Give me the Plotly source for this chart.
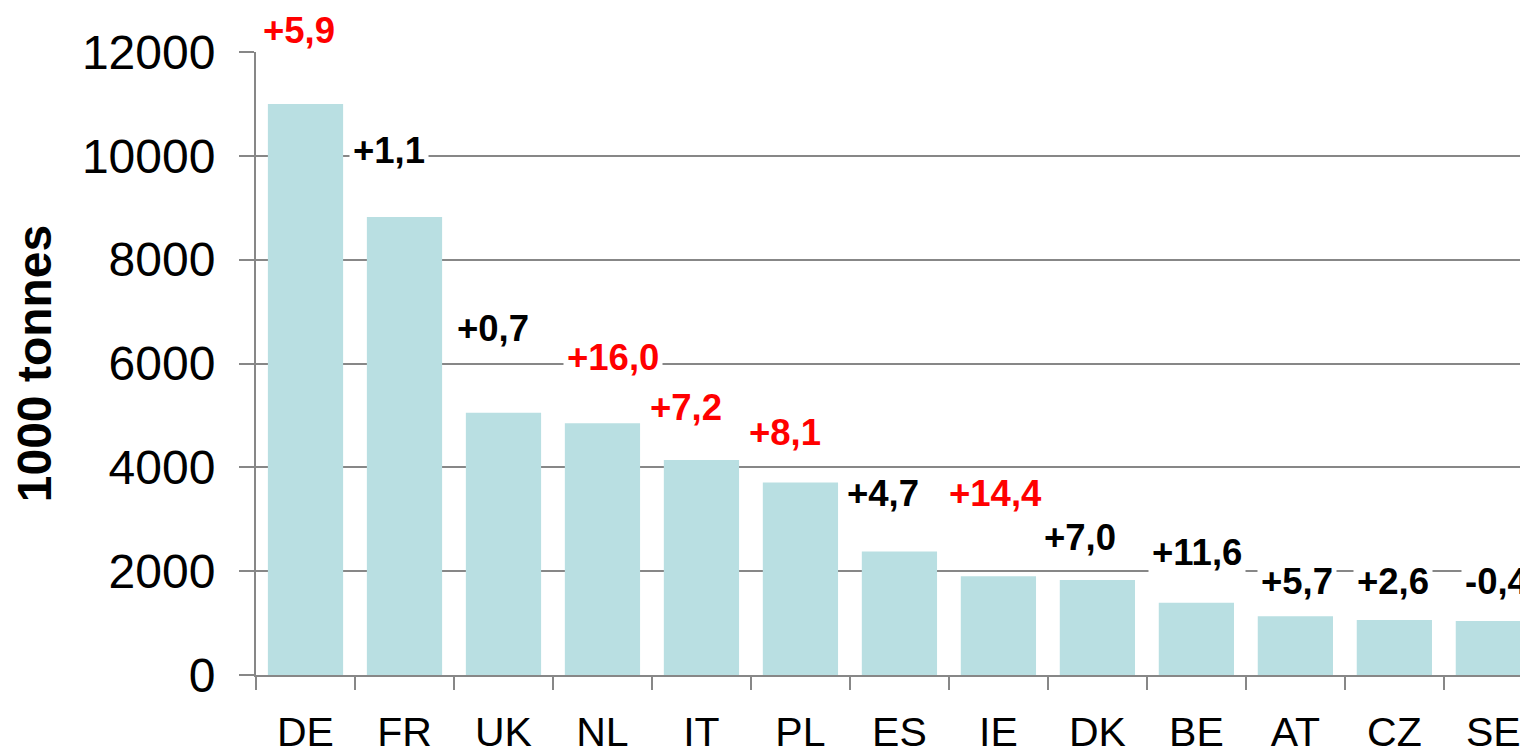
import plotly.graph_objects as go

# ---- data ----
countries = ["DE", "FR", "UK", "NL", "IT", "PL", "ES", "IE", "DK", "BE", "AT", "CZ", "SE"]
volumes = [11000, 8820, 5050, 4850, 4140, 3710, 2380, 1900, 1830, 1390, 1130, 1060, 1040]
change_labels = ["+5,9", "+1,1", "+0,7", "+16,0", "+7,2", "+8,1", "+4,7", "+14,4",
                 "+7,0", "+11,6", "+5,7", "+2,6", "-0,4"]
highlight = [True, False, False, True, True, True, False, True,
             False, False, False, False, False]

# ---- label placement (styling) ----
label_y = [12420, 10110, 6680, 6120, 5160, 4680, 3490, 3490, 2640, 2350, 1810, 1810, 1810]
label_xshift = [-6, -15, -10, 11, -15, -15, -16, -3, -17, 1, 2, -1, 4]

FONT = "Liberation Sans, Arial, sans-serif"
GRID = "#878787"
Y_MAX = 12000

fig = go.Figure()
fig.add_trace(go.Bar(
    x=countries, y=volumes,
    marker=dict(color="#B9DFE2", line=dict(width=0)),
    hoverinfo="x+y",
))

for c, t, yy, xs, hl in zip(countries, change_labels, label_y, label_xshift, highlight):
    fig.add_annotation(
        x=c, y=yy / Y_MAX, xref="x", yref="paper", text=t, showarrow=False,
        xanchor="center", yanchor="middle",
        xshift=xs, bgcolor="white", borderpad=3,
        font=dict(family=FONT, size=36.5, color="#FF0000" if hl else "#000000", weight="bold"),
    )

fig.update_layout(
    width=1520, height=747,
    margin=dict(l=248, r=0, t=44, b=80, autoexpand=False),
    paper_bgcolor="white", plot_bgcolor="white",
    bargap=0.24,
    showlegend=False,
    font=dict(family=FONT, color="black"),
)
fig.update_xaxes(
    range=[-0.5, 12.35], automargin=False,
    showline=True, linecolor=GRID, linewidth=2,
    ticks="outside", tickson="boundaries", ticklen=13, tickwidth=2, tickcolor=GRID,
    tickfont=dict(family=FONT, size=41, color="black"),
    ticklabelstandoff=20,
    showgrid=False, zeroline=False,
)
fig.update_yaxes(
    range=[0, Y_MAX], dtick=2000, tickformat="d", automargin=False,
    showline=True, linecolor=GRID, linewidth=2,
    ticks="outside", ticklen=15, tickwidth=2, tickcolor=GRID,
    showgrid=True, gridcolor=GRID, gridwidth=2, zeroline=False,
    tickfont=dict(family=FONT, size=48, color="black"),
    ticklabelstandoff=14,
    title=dict(text="1000 tonnes", font=dict(family=FONT, size=48, color="black", weight="bold"),
               standoff=18),
)

fig.write_html("out.html")
